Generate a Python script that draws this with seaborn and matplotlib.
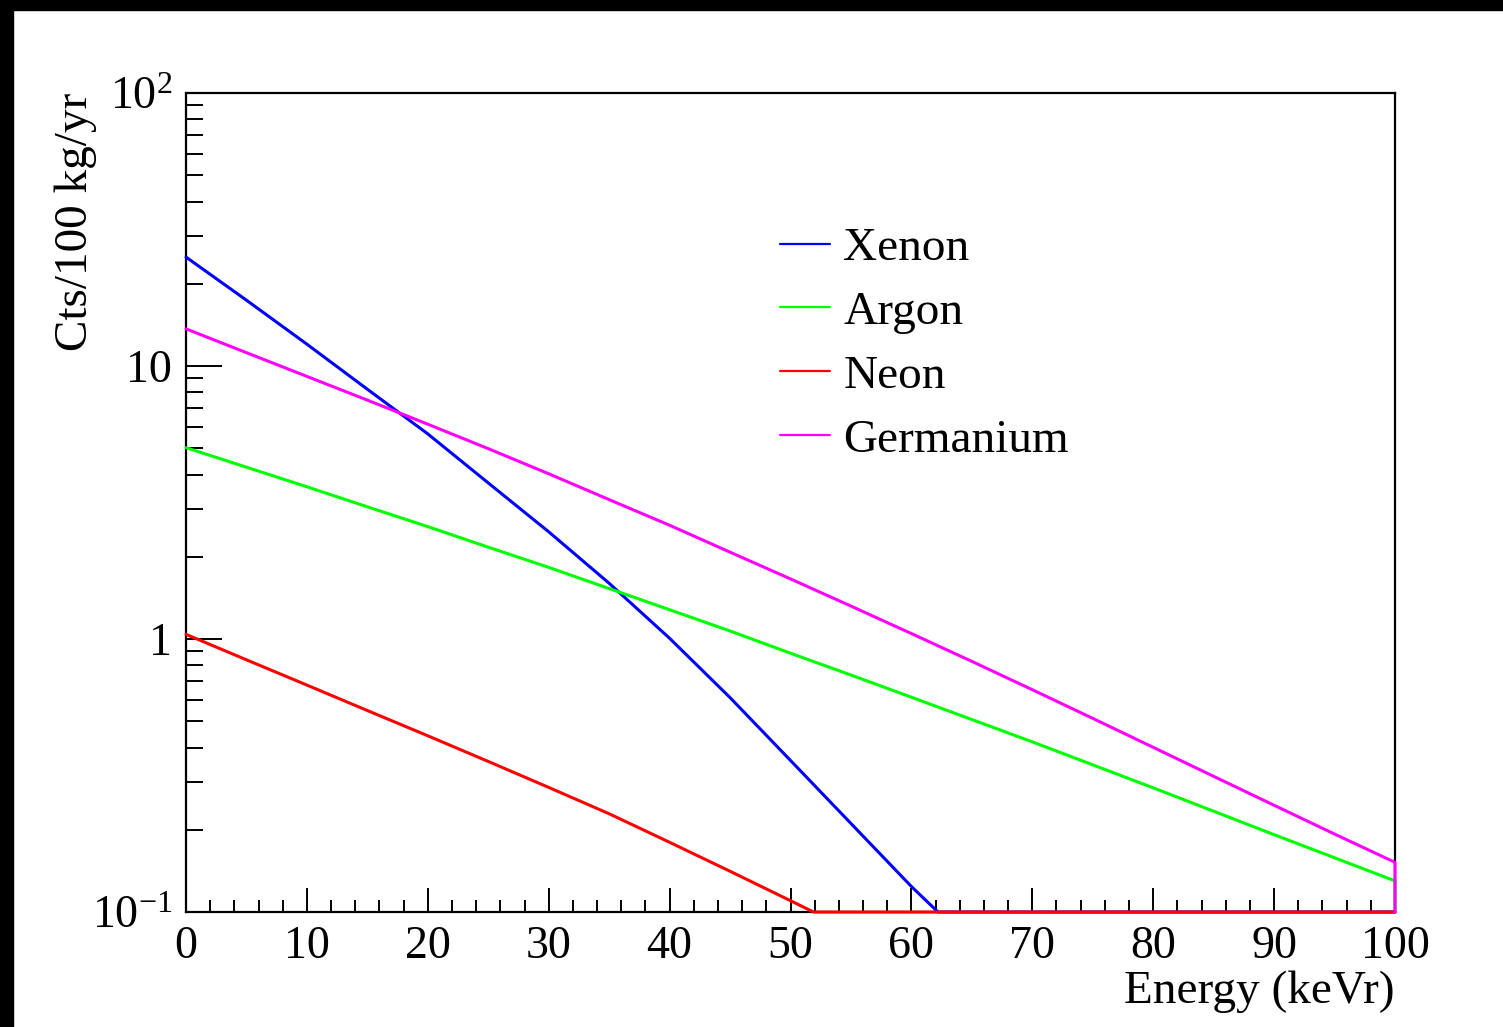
import numpy as np
import pandas as pd
import matplotlib
matplotlib.use("Agg")
import matplotlib.pyplot as plt
from matplotlib.patches import Rectangle
from matplotlib.ticker import FixedLocator, FixedFormatter, MultipleLocator, LogLocator, NullFormatter
import seaborn as sns

# Expected recoil spectra per target (counts / 100 kg / yr vs recoil energy in keVr)
xenon_energy = [0, 5, 10, 15, 20, 25, 30, 35, 40, 45, 50, 55, 60, 62.2, 100]
xenon_rate = [25.06, 17.42, 12.02, 8.22, 5.64, 3.73, 2.47, 1.60, 1.006, 0.610, 0.359,
              0.211, 0.124, 0.100, 0.0]

argon_energy = [0, 5, 10, 15, 20, 25, 30, 35, 40, 45, 50, 55, 60, 65, 70, 75, 80, 85,
                90, 95, 100, 100]
argon_rate = [5.02, 4.26, 3.61, 3.05, 2.58, 2.17, 1.83, 1.53, 1.28, 1.07, 0.887, 0.738,
              0.612, 0.507, 0.420, 0.346, 0.285, 0.234, 0.192, 0.158, 0.130, 0.0]

neon_energy = [0, 5, 10, 15, 20, 25, 30, 35, 40, 45, 50, 51.9, 100]
neon_rate = [1.04, 0.839, 0.678, 0.547, 0.442, 0.356, 0.286, 0.229, 0.180, 0.141, 0.110,
             0.100, 0.0]

germanium_energy = [0, 5, 10, 15, 20, 25, 30, 35, 40, 45, 50, 55, 60, 65, 70, 75, 80,
                    85, 90, 95, 100, 100]
germanium_rate = [13.68, 11.19, 9.16, 7.50, 6.12, 4.98, 4.03, 3.24, 2.61, 2.08, 1.66, 1.32,
                  1.047, 0.828, 0.652, 0.512, 0.401, 0.314, 0.246, 0.193, 0.152, 0.0]

series_names = ["Xenon", "Argon", "Neon", "Germanium"]
series_colors = ["#0000ff", "#00ff00", "#ff0000", "#ff00ff"]
series_data = [(xenon_energy, xenon_rate), (argon_energy, argon_rate),
               (neon_energy, neon_rate), (germanium_energy, germanium_rate)]

y_min, y_max = 0.1, 100.0
x_min, x_max = 0.0, 100.0

sns.set_style("ticks")
plt.rcParams["font.family"] = ["Liberation Serif", "DejaVu Serif"]
plt.rcParams["mathtext.fontset"] = "custom"
plt.rcParams["mathtext.rm"] = "Liberation Serif"
plt.rcParams["mathtext.it"] = "Liberation Serif:italic"
plt.rcParams["mathtext.bf"] = "Liberation Serif:bold"
plt.rcParams["text.color"] = "black"
plt.rcParams["axes.labelcolor"] = "black"
plt.rcParams["xtick.color"] = "black"
plt.rcParams["ytick.color"] = "black"

W, H = 1503, 1027
fig = plt.figure(figsize=(W / 100, H / 100), dpi=100, facecolor="white")
ax = fig.add_axes([186 / W, 1 - 912 / H, (1395 - 186) / W, (912 - 93) / H])
ax.set_facecolor("white")

for name, color, (energy, rate) in zip(series_names, series_colors, series_data):
    df = pd.DataFrame({"Energy": energy, "Rate": rate})
    # values under the frame minimum sit on the lower frame edge
    df["Rate"] = df["Rate"].clip(lower=y_min)
    sns.lineplot(data=df, x="Energy", y="Rate", ax=ax, color=color, label=name,
                 sort=False, estimator=None, linewidth=2.2, clip_on=False, zorder=5)

ax.set_yscale("log")
ax.set_xlim(x_min, x_max)
ax.set_ylim(y_min, y_max)

# axis frame
for side in ["left", "bottom", "right", "top"]:
    ax.spines[side].set_visible(True)
    ax.spines[side].set_linewidth(1.6)
    ax.spines[side].set_color("black")

# ticks
ax.xaxis.set_major_locator(MultipleLocator(10))
ax.xaxis.set_minor_locator(MultipleLocator(2))
ax.yaxis.set_major_locator(FixedLocator([0.1, 1, 10, 100]))
ax.yaxis.set_major_formatter(FixedFormatter(["$10^{-1}$", "1", "10", "$10^{2}$"]))
ax.yaxis.set_minor_locator(LogLocator(base=10, subs=np.arange(2, 10)))
ax.yaxis.set_minor_formatter(NullFormatter())

ax.tick_params(axis="both", which="both", direction="in", top=False, right=False,
               width=1.4, color="black", labelsize=33, labelcolor="black")
ax.tick_params(axis="x", which="major", length=17, pad=10)
ax.tick_params(axis="x", which="minor", length=8.5)
ax.tick_params(axis="y", which="major", length=26, pad=10)
ax.tick_params(axis="y", which="minor", length=12.5)

ax.set_xlabel("Energy (keVr)", fontsize=34, loc="right", color="black")
ax.xaxis.set_label_coords(1.0, -0.071)
ax.xaxis.label.set_verticalalignment("top")
ax.set_ylabel("Cts/100 kg/yr", fontsize=34, loc="top", color="black")
ax.yaxis.set_label_coords(-0.074, 1.0)

leg = ax.legend(loc="upper left", bbox_to_anchor=(780 / W, 1 - 227 / H),
                bbox_transform=fig.transFigure, frameon=False, fontsize=34,
                handlelength=1.06, handletextpad=0.28, labelspacing=0.44,
                borderpad=0, borderaxespad=0)
for line in leg.get_lines():
    line.set_linewidth(1.6)
for txt in leg.get_texts():
    txt.set_color("black")

# dark band along the top and left edges of the canvas
fig.add_artist(Rectangle((0, 1 - 10 / H), 1, 10 / H, transform=fig.transFigure,
                         color="black", zorder=20))
fig.add_artist(Rectangle((0, 0), 13 / W, 1, transform=fig.transFigure,
                         color="black", zorder=20))

fig.savefig("out.png", dpi=100, facecolor="white")
